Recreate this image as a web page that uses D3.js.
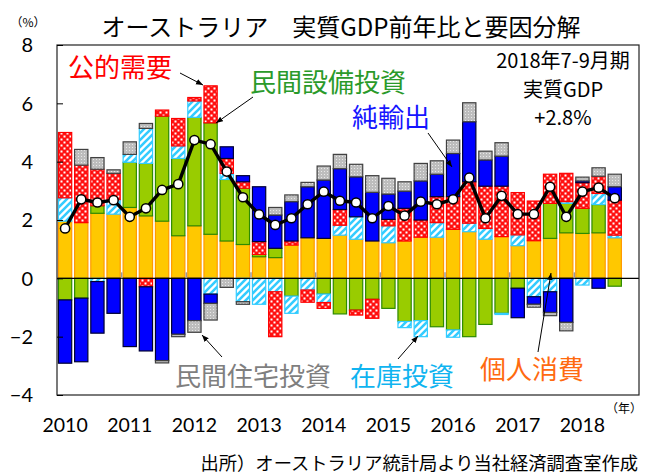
<!DOCTYPE html>
<html><head><meta charset="utf-8">
<script src="https://cdn.jsdelivr.net/npm/d3@7"></script>
<style>
body{margin:0;background:#fff}
svg{display:block}
.jp{font-family:"Noto Sans CJK JP","Noto Sans",sans-serif}
.num{font-family:Lato,"Liberation Sans",sans-serif}
</style>
</head><body>
<svg id="c" width="654" height="476"></svg>
<script>
// ---- data (contribution to real GDP y/y growth, %pt) ----
const years = ["2010","2011","2012","2013","2014","2015","2016","2017","2018"];
const quarters = [];
years.forEach(y => ["Q1","Q2","Q3","Q4"].forEach(q => quarters.push(y + q)));
const consumption = [1.96,1.91,2.23,2.20,2.43,2.14,1.96,1.46,1.80,1.51,1.28,1.16,0.74,0.71,1.14,1.39,1.37,1.48,1.34,1.28,1.22,1.28,1.41,1.41,1.68,1.60,1.34,1.43,1.12,1.29,1.37,1.56,1.54,1.56,1.39];
const capex       = [-0.74,-0.68,0.26,0,1.55,1.80,3.60,2.65,3.72,3.82,2.11,1.93,0.08,0.32,-0.61,0,-0.54,-1.22,-1.09,-0.72,-1.03,-1.48,-1.45,-1.66,-1.77,-2.00,-1.58,-1.20,-0.34,0,1.20,1.01,0.86,0.97,-0.27];
const inventory   = [0.80,0,-0.11,0.50,0.27,1.20,0,0.43,0.56,-0.54,0.21,-0.80,-0.89,-0.46,-0.59,-0.40,-0.29,0.34,0.77,0,0.58,-0.21,-0.55,0.50,-0.25,0.29,0.37,-0.04,0.37,-0.63,-0.46,0.06,-0.23,0.38,0.09];
const publicDemand= [2.24,1.97,1.25,0.90,0,-0.29,0.21,0.94,0.12,1.27,0.51,0.22,0.44,-1.54,0.14,-0.42,-0.20,0.54,-0.17,-0.65,0.22,1.12,0.59,0.89,1.12,1.42,1.45,1.73,1.45,1.36,1.00,0.97,0.88,0.59,1.20];
const netExports  = [-2.17,-2.18,-1.77,-1.20,-2.34,-2.20,-2.82,-1.92,-1.45,-0.32,0.40,0.21,1.88,1.14,1.35,1.75,2.00,1.40,1.37,1.67,0.87,0.59,1.34,0.77,1.48,2.06,0.90,1.03,-1.01,-0.26,-0.71,-1.51,0.06,-0.34,0.46];
const housing     = [0,0.54,0.40,0.12,0.43,0.17,-0.08,-0.08,-0.40,-0.57,-0.31,-0.09,0,0.26,0.23,0.15,0.48,0.49,0.43,0.57,0.54,0.32,0.60,0.46,0.46,0.65,0.30,0.46,0,-0.10,-0.11,-0.29,0.13,0.29,0.43];
const gdp         = [1.71,2.71,2.60,2.68,2.11,2.40,3.03,3.23,4.74,4.60,3.66,2.78,2.19,1.83,2.06,2.54,2.97,2.66,2.60,2.06,2.48,2.15,2.63,2.54,2.71,3.45,2.06,2.83,2.20,2.20,3.14,2.11,2.97,3.11,2.75];
const yTicks = [-4,-2,0,2,4,6,8];

const keys = ["consumption","capex","inventory","publicDemand","netExports","housing"];
const seriesArr = {consumption, capex, inventory, publicDemand, netExports, housing};
const rows = gdp.map((g,i) => {
  const r = {q: quarters[i], gdp: g};
  keys.forEach(k => r[k] = seriesArr[k][i]);
  return r;
});

// ---- layout ----
const svg = d3.select("#c");
const L = 57, R = 639, T = 45, B = 395;
const x = d3.scaleBand().domain(quarters).range([L, R]).paddingInner(0.18).paddingOuter(0.09);
const y = d3.scaleLinear().domain([-4, 8]).range([B, T]);

// ---- patterns ----
const defs = svg.append("defs");
const ph = defs.append("pattern").attr("id","hatch").attr("patternUnits","userSpaceOnUse").attr("width",7).attr("height",7);
ph.append("rect").attr("width",7).attr("height",7).attr("fill","#fff");
ph.append("path").attr("d","M-2,2 L2,-2 M0,7 L7,0 M5,9 L9,5").attr("stroke","#33CCFF").attr("stroke-width",2.6);
const pd = defs.append("pattern").attr("id","dots").attr("patternUnits","userSpaceOnUse").attr("width",6).attr("height",6);
pd.append("rect").attr("width",6).attr("height",6).attr("fill","#FF1010");
pd.append("rect").attr("x",0.5).attr("y",0.5).attr("width",2).attr("height",2).attr("fill","#fff");
pd.append("rect").attr("x",3.5).attr("y",3.5).attr("width",2).attr("height",2).attr("fill","#fff");
const pg = defs.append("pattern").attr("id","gray").attr("patternUnits","userSpaceOnUse").attr("width",3).attr("height",3);
pg.append("rect").attr("width",3).attr("height",3).attr("fill","#BDBDBD");
pg.append("rect").attr("width",1).attr("height",1).attr("fill","#E8E8E8");
const mk = defs.append("marker").attr("id","arr").attr("viewBox","0 0 10 10").attr("refX",10).attr("refY",5)
  .attr("markerWidth",7).attr("markerHeight",7).attr("orient","auto-start-reverse").attr("markerUnits","userSpaceOnUse");
mk.append("path").attr("d","M0,1 L10,5 L0,9 Z").attr("fill","#000");

const styles = {
  consumption: {fill:"#FFC800", stroke:"#FF9A00"},
  capex:       {fill:"#99CC00", stroke:"#2E8B00"},
  inventory:   {fill:"url(#hatch)", stroke:"#33CCFF"},
  publicDemand:{fill:"url(#dots)", stroke:"#FF0000"},
  netExports:  {fill:"#0000FF", stroke:"#000033"},
  housing:     {fill:"url(#gray)", stroke:"#404040"}
};

// ---- bars ----
const stack = d3.stack().keys(keys).offset(d3.stackOffsetDiverging)(rows);
const gBars = svg.append("g");
stack.forEach(s => {
  gBars.append("g").selectAll("rect").data(s.filter(d => d[1] !== d[0])).join("rect")
    .attr("x", d => x(d.data.q))
    .attr("width", x.bandwidth())
    .attr("y", d => y(Math.max(d[0], d[1])))
    .attr("height", d => Math.abs(y(d[0]) - y(d[1])))
    .attr("fill", styles[s.key].fill)
    .attr("stroke", styles[s.key].stroke)
    .attr("stroke-width", 1.2);
});

// ---- zero line and year ticks ----
svg.append("line").attr("x1",L).attr("x2",R).attr("y1",y(0)).attr("y2",y(0)).attr("stroke","#000").attr("stroke-width",1.2);
svg.append("g").selectAll("line").data(years.slice(1)).join("line")
  .attr("x1", d => x(d+"Q1") - x.step()*x.paddingInner()/2)
  .attr("x2", d => x(d+"Q1") - x.step()*x.paddingInner()/2)
  .attr("y1", y(0)-6).attr("y2", y(0)).attr("stroke","#9a9a9a").attr("stroke-width",1.5);

// ---- GDP line ----
const cx = d => x(d.q) + x.bandwidth()/2;
svg.append("path").datum(rows).attr("fill","none").attr("stroke","#000").attr("stroke-width",3.4)
  .attr("stroke-linejoin","round")
  .attr("d", d3.line().x(cx).y(d => y(d.gdp)));
svg.append("g").selectAll("circle").data(rows).join("circle")
  .attr("cx", cx).attr("cy", d => y(d.gdp)).attr("r", 4.6)
  .attr("fill","#fff").attr("stroke","#000").attr("stroke-width",1.5);

// ---- frame & y axis ----
svg.append("rect").attr("x",L).attr("y",T).attr("width",R-L).attr("height",B-T)
  .attr("fill","none").attr("stroke","#222").attr("stroke-width",1.2);
const yAxis = d3.axisLeft(y).tickValues(yTicks).tickSize(-6).tickPadding(24).tickFormat(d3.format("d"));
const ya = svg.append("g").attr("transform",`translate(${L},0)`).call(yAxis);
ya.select(".domain").remove();
ya.selectAll(".tick line").attr("stroke","#000");
ya.selectAll("text").attr("class","num").attr("font-size",20).attr("fill","#000").attr("dy","0.34em");

// ---- x labels ----
svg.append("g").selectAll("text").data(years).join("text")
  .attr("class","num").attr("font-size",19.5).attr("text-anchor","middle")
  .attr("x", d => x(d+"Q1") + x.bandwidth()/2).attr("y", 432).text(d => d);

// ---- texts ----
svg.append("text").attr("class","jp").attr("x",28).attr("y",27).attr("font-size",12).attr("text-anchor","middle").text("（%）");
svg.append("text").attr("class","jp").attr("x",341).attr("y",36).attr("font-size",24).attr("text-anchor","middle")
  .text("オーストラリア　実質GDP前年比と要因分解");
svg.append("text").attr("class","jp").attr("x",624).attr("y",413).attr("font-size",12).attr("text-anchor","middle").text("（年）");
svg.append("text").attr("class","jp").attr("x",638).attr("y",470).attr("font-size",18.3).attr("text-anchor","end")
  .text("出所）オーストラリア統計局より当社経済調査室作成");

svg.append("text").attr("class","jp").attr("x",563).attr("y",68).attr("font-size",20).attr("text-anchor","middle").text("2018年7-9月期");
svg.append("text").attr("class","jp").attr("x",563).attr("y",97).attr("font-size",20).attr("text-anchor","middle").text("実質GDP");
svg.append("text").attr("class","jp").attr("x",563).attr("y",125).attr("font-size",20).attr("text-anchor","middle").text("+2.8%");

const labels = [
  {t:"公的需要", x:68, y:77, c:"#FF0000"},
  {t:"民間設備投資", x:250, y:92, c:"#2A9A2A"},
  {t:"純輸出", x:352, y:127, c:"#1515FF"},
  {t:"民間住宅投資", x:175, y:386, c:"#7F7F7F"},
  {t:"在庫投資", x:350, y:386, c:"#10B4F0"},
  {t:"個人消費", x:480, y:379, c:"#FF6A10"}
];
svg.append("g").selectAll("text").data(labels).join("text")
  .attr("class","jp").attr("font-size",26).attr("x",d=>d.x).attr("y",d=>d.y).attr("fill",d=>d.c).text(d=>d.t);

const arrows = [
  [180,73,203,85],
  [253,97,216,123],
  [428,133,452,167],
  [222,357,202,335],
  [398,359,418,336],
  [538,352,551,273]
];
svg.append("g").selectAll("line").data(arrows).join("line")
  .attr("x1",d=>d[0]).attr("y1",d=>d[1]).attr("x2",d=>d[2]).attr("y2",d=>d[3])
  .attr("stroke","#000").attr("stroke-width",1).attr("marker-end","url(#arr)");
</script>
</body></html>
